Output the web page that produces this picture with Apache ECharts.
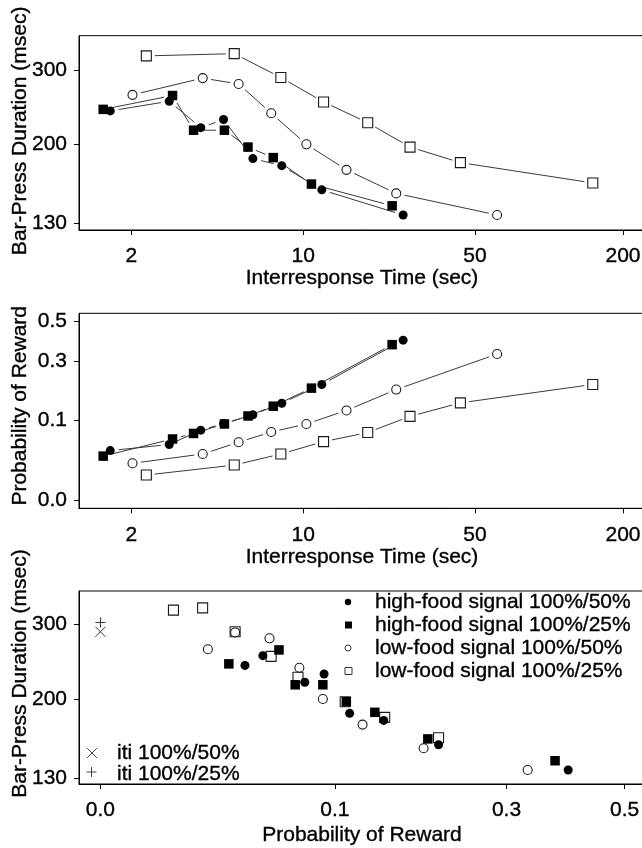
<!DOCTYPE html>
<html><head><meta charset="utf-8">
<script src="https://cdn.jsdelivr.net/npm/echarts@6/dist/echarts.min.js"></script>
<style>html,body{margin:0;padding:0;background:#fff}#c{width:642px;height:848px}</style>
</head><body><div id="c"></div>
<script>
// ---------------- data ----------------
const seriesNames = ['high-food signal 100%/50%','high-food signal 100%/25%','low-food signal 100%/50%','low-food signal 100%/25%'];
// interresponse time (sec)
const irtHigh50 = [1.64, 2.85, 3.83, 4.74, 6.24, 8.18, 11.9, 25.5];
const irtHigh25 = [1.535, 2.94, 3.58, 4.78, 5.96, 7.55, 10.8, 23.0];
const irtLow50  = [2.02, 3.90, 5.46, 7.41, 10.3, 15.0, 23.9, 61.5];
const irtLow25  = [2.30, 5.24, 8.11, 12.1, 18.3, 27.2, 43.6, 150.7];
// bar-press duration (msec)
const durHigh50 = [240, 253, 219, 229, 185, 178, 156, 136];
const durHigh25 = [242, 261, 216, 216, 197, 186, 161, 143];
const durLow50  = [262, 287, 278, 237, 200, 174, 153, 136];
const durLow25  = [324, 328, 288, 252, 225, 197, 181, 162];
// probability of reward
const probHigh50 = [0.038, 0.048, 0.076, 0.091, 0.113, 0.146, 0.208, 0.398];
const probHigh25 = [0.030, 0.058, 0.069, 0.090, 0.110, 0.137, 0.195, 0.376];
const probLow50  = [0.021, 0.033, 0.052, 0.072, 0.090, 0.125, 0.190, 0.332];
const probLow25  = [0.0097, 0.019, 0.033, 0.053, 0.071, 0.109, 0.147, 0.208];
// intertrial interval points
const itiNames = ['iti 100%/50%', 'iti 100%/25%'];
const itiProb = [0, 0];
const itiDur = [288, 303];
// tick labels
const irtTicks = [2, 10, 50, 200];
const irtTickLabels = ['2', '10', '50', '200'];
const durTicks = [130, 200, 300];
const durTickLabels = ['130', '200', '300'];
const probTicks = [0, 0.1, 0.3, 0.5];
const probTickLabels = ['0.0', '0.1', '0.3', '0.5'];
// ----------------------------------------------------------------

const FONT = "'Liberation Sans', Arial, Helvetica, sans-serif";
const FS = 21;
const TB = { textBorderColor: '#000', textBorderWidth: 0.35 };
const L = v => Math.log10(v);
const S = v => Math.sqrt(v);

const irts = [irtHigh50, irtHigh25, irtLow50, irtLow25];
const durs = [durHigh50, durHigh25, durLow50, durLow25];
const probs = [probHigh50, probHigh25, probLow50, probLow25];

const symbols = ['circle', 'rect', 'circle', 'rect'];
const sizes = [9, 9.5, 9, 10];
const filled = [true, true, false, false];
function itemStyleFor(i) {
  return filled[i] ? { color: '#000', borderWidth: 0, opacity: 1 }
                   : { color: 'transparent', borderColor: '#1a1a1a', borderWidth: 1.1, opacity: 1 };
}

function fmt(ticks, labels, tf) {
  return function (v) {
    for (let i = 0; i < ticks.length; i++) if (Math.abs(tf(ticks[i]) - v) < 1e-6) return labels[i];
    return '';
  };
}

function axisCommon() {
  return {
    type: 'value',
    splitLine: { show: false },
    axisLine: { show: true, onZero: false, lineStyle: { color: '#000', width: 1 } },
    axisTick: { show: true, inside: false, length: 5, lineStyle: { color: '#000', width: 1 } },
    nameLocation: 'middle',
    nameMoveOverlap: false
  };
}
function xAx(grid, min, max, ticks, labels, tf, name, gap) {
  const a = axisCommon();
  return Object.assign(a, {
    gridIndex: grid, min: min, max: max, position: 'bottom',
    name: name, nameGap: gap,
    nameTextStyle: Object.assign({ fontFamily: FONT, fontSize: FS, color: '#000' }, TB),
    axisTick: Object.assign(a.axisTick, { customValues: ticks.map(tf) }),
    axisLabel: Object.assign({ customValues: ticks.map(tf), formatter: fmt(ticks, labels, tf), margin: 16,
                 fontFamily: FONT, fontSize: FS, color: '#000', hideOverlap: false }, TB)
  });
}
function yAx(grid, min, max, ticks, labels, tf, name, shift) {
  const a = axisCommon();
  return Object.assign(a, {
    gridIndex: grid, min: min, max: max, position: 'left',
    name: name, nameGap: 48,
    nameTextStyle: Object.assign({ fontFamily: FONT, fontSize: FS, color: '#000', padding: [0, 0, 0, shift] }, TB),
    axisTick: Object.assign(a.axisTick, { customValues: ticks.map(tf) }),
    axisLabel: Object.assign({ customValues: ticks.map(tf), formatter: fmt(ticks, labels, tf), margin: 12,
                 fontFamily: FONT, fontSize: FS, color: '#000', hideOverlap: false }, TB)
  });
}

const GAP = 8.5;
function lineRender(params, api) {
  const a = api.coord([api.value(0), api.value(1)]);
  const b = api.coord([api.value(2), api.value(3)]);
  const dx = b[0] - a[0], dy = b[1] - a[1];
  const len = Math.hypot(dx, dy);
  if (len <= 2 * GAP) return null;
  const ux = dx / len, uy = dy / len;
  return {
    type: 'line',
    shape: { x1: a[0] + ux * GAP, y1: a[1] + uy * GAP, x2: b[0] - ux * GAP, y2: b[1] - uy * GAP },
    style: { stroke: '#3a3a3a', lineWidth: 1 }
  };
}
function segments(xs, ys, tx, ty) {
  const d = [];
  for (let i = 0; i < xs.length - 1; i++) d.push([tx(xs[i]), ty(ys[i]), tx(xs[i + 1]), ty(ys[i + 1])]);
  return d;
}
function points(xs, ys, tx, ty) { return xs.map((x, i) => [tx(x), ty(ys[i])]); }

const series = [];
// panel 1: IRT vs duration ; panel 2: IRT vs probability
for (let p = 0; p < 2; p++) {
  for (let i = 0; i < 4; i++) {
    const ys = p === 0 ? durs[i] : probs[i];
    const ty = p === 0 ? L : S;
    series.push({
      type: 'custom', name: 'line' + p + '_' + i, xAxisIndex: p, yAxisIndex: p, silent: true, z: 2,
      renderItem: lineRender, encode: { x: [0, 2], y: [1, 3] },
      data: segments(irts[i], ys, L, ty)
    });
  }
  for (let i = 0; i < 4; i++) {
    const ys = p === 0 ? durs[i] : probs[i];
    const ty = p === 0 ? L : S;
    series.push({
      type: 'scatter', name: 'pts' + p + '_' + i, xAxisIndex: p, yAxisIndex: p, silent: true, z: 4,
      symbol: symbols[i], symbolSize: sizes[i], itemStyle: itemStyleFor(i),
      data: points(irts[i], ys, L, ty)
    });
  }
}
// panel 3: probability vs duration (draw open symbols first)
[3, 2, 1, 0].forEach(i => {
  series.push({
    type: 'scatter', name: seriesNames[i], xAxisIndex: 2, yAxisIndex: 2, silent: true, z: 4,
    symbol: symbols[i], symbolSize: sizes[i], itemStyle: itemStyleFor(i),
    data: points(probs[i], durs[i], S, L)
  });
});
const itiSymbols = ['path://M0,0L10,10M10,0L0,10', 'path://M5,0L5,10M0,5L10,5'];
itiNames.forEach((n, i) => {
  series.push({
    type: 'scatter', name: n, xAxisIndex: 2, yAxisIndex: 2, silent: true, z: 4,
    symbol: itiSymbols[i], symbolSize: 10,
    itemStyle: { color: 'none', borderColor: '#333', borderWidth: 1, opacity: 1 },
    data: [[S(itiProb[i]), L(itiDur[i])]]
  });
});

// legends drawn as graphics
const legendRowsY = [602, 625, 648, 671];
const graphic = [];
const txtStyle = (t) => ({ text: t, font: FS + 'px ' + FONT, fill: '#000', textVerticalAlign: 'middle', stroke: '#000', lineWidth: 0.35 });
legendRowsY.forEach((y, i) => {
  const icon = symbols[i] === 'circle'
    ? { type: 'circle', shape: { cx: 348, cy: y, r: filled[i] ? 3.2 : 3 } }
    : { type: 'rect', shape: { x: 345, y: y - 3.5, width: 7, height: 7 } };
  icon.style = filled[i] ? { fill: '#000' } : { fill: 'none', stroke: '#333', lineWidth: 1 };
  graphic.push(icon);
  graphic.push({ type: 'text', x: 375, y: y, style: txtStyle(seriesNames[i]) });
});
const itiLegendY = [753, 774];
graphic.push({ type: 'polyline', shape: { points: [[87, 748], [97, 758]] }, style: { stroke: '#444', lineWidth: 1 } });
graphic.push({ type: 'polyline', shape: { points: [[97, 748], [87, 758]] }, style: { stroke: '#444', lineWidth: 1 } });
graphic.push({ type: 'polyline', shape: { points: [[91.5, 767], [91.5, 777]] }, style: { stroke: '#444', lineWidth: 1 } });
graphic.push({ type: 'polyline', shape: { points: [[86.5, 772], [96.5, 772]] }, style: { stroke: '#444', lineWidth: 1 } });
itiNames.forEach((n, i) => {
  graphic.push({ type: 'text', x: 117, y: itiLegendY[i], style: txtStyle(n) });
});

const gridBase = { left: 79, right: -3, show: true, borderColor: '#000', borderWidth: 1, backgroundColor: 'transparent', outerBoundsMode: 'none', containLabel: false };
const option = {
  animation: false,
  backgroundColor: '#fff',
  textStyle: { fontFamily: FONT },
  grid: [
    Object.assign({}, gridBase, { top: 35.7, height: 194.3 }),
    Object.assign({}, gridBase, { top: 313.3, height: 195 }),
    Object.assign({}, gridBase, { top: 591, height: 193 })
  ],
  xAxis: [
    xAx(0, 0.0877, 2.3906, irtTicks, irtTickLabels, L, 'Interresponse Time (sec)', 38),
    xAx(1, 0.0877, 2.3906, irtTicks, irtTickLabels, L, 'Interresponse Time (sec)', 38),
    xAx(2, -0.0289, 0.7345, probTicks, probTickLabels, S, 'Probability of Reward', 41)
  ],
  yAxis: [
    yAx(0, 2.0980, 2.5584, durTicks, durTickLabels, L, 'Bar-Press Duration (msec)', 4),
    yAx(1, -0.0328, 0.737, probTicks, probTickLabels, S, 'Probability of Reward', 10),
    yAx(2, 2.1005, 2.5556, durTicks, durTickLabels, L, 'Bar-Press Duration (msec)', 28)
  ],
  series: series,
  graphic: graphic
};
const chart = echarts.init(document.getElementById('c'), null, { renderer: 'canvas' });
chart.setOption(option);
</script></body></html>
